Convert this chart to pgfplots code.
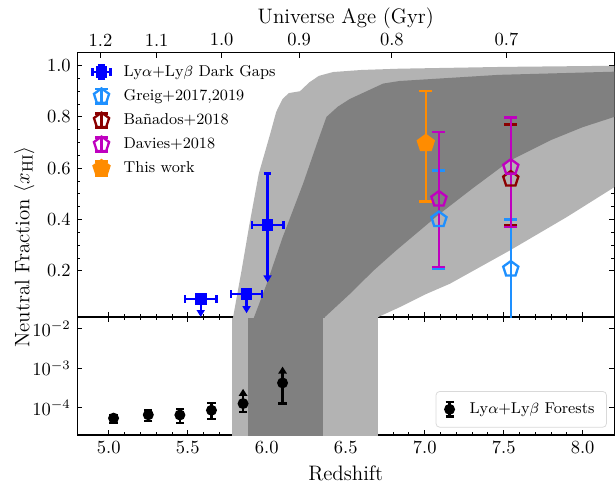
\documentclass[border=0pt]{standalone}
\usepackage{pgfplots}
\pgfplotsset{compat=1.18}
\usetikzlibrary{arrows.meta}

\definecolor{lgray}{RGB}{179,179,179}
\definecolor{dgray}{RGB}{128,128,128}
\definecolor{dodger}{RGB}{30,144,255}
\definecolor{dred}{RGB}{139,0,0}
\definecolor{mag}{RGB}{191,0,191}
\definecolor{dorange}{RGB}{255,140,0}

\pgfplotsset{
  base/.style={
    scale only axis, width=290pt, xmin=4.8, xmax=8.2,
    tick align=inside, major tick length=2.7pt, minor tick length=1.5pt,
    every tick/.append style={line width=0.5pt, black},
    axis line style={line width=0.7pt},
    tick label style={font=\fontsize{10}{12}\selectfont},
    label style={font=\fontsize{11.3}{13.5}\selectfont},
  },
  zticks/.style={
    xtick={5,5.5,6,6.5,7,7.5,8}, minor x tick num=4,
    xticklabel style={/pgf/number format/.cd, fixed, fixed zerofill, precision=1},
  },
  ebleg/.style={legend image code/.code={
    \draw[##1, mark=none] (0pt,-3.8pt) -- (0pt,3.8pt)
      (-3.5pt,-3.8pt) -- (3.5pt,-3.8pt) (-3.5pt,3.8pt) -- (3.5pt,3.8pt);
    \draw[##1] plot coordinates {(0pt,0pt)};}},
  ebblue/.style={legend image code/.code={
    \draw[##1, mark=none] (0pt,-3.8pt) -- (0pt,3.8pt) (-4.8pt,0pt) -- (4.8pt,0pt)
      (-2pt,-3.8pt) -- (2pt,-3.8pt) (-2pt,3.8pt) -- (2pt,3.8pt)
      (-4.8pt,-2pt) -- (-4.8pt,2pt) (4.8pt,-2pt) -- (4.8pt,2pt);
    \draw[##1] plot coordinates {(0pt,0pt)};}},
  ebblack/.style={legend image code/.code={
    \draw[##1, mark=none] (0pt,-3.8pt) -- (0pt,3.8pt)
      (-2.2pt,-3.8pt) -- (2.2pt,-3.8pt) (-2.2pt,3.8pt) -- (2.2pt,3.8pt);
    \draw[##1] plot coordinates {(0pt,0pt)};}},
  ebar/.style={error bars/.cd, y dir=both, y explicit,
    error bar style={line width=1.25pt},
    error mark options={rotate=90, line width=1.25pt, mark size=#1}},
}

\begin{document}
\begin{tikzpicture}
% ---------------- lower panel: forests ----------------
\begin{axis}[base, zticks, name=lower, at={(0pt,0pt)}, anchor=south west, height=63.7pt,
  ymode=log, ymin=2e-5, ymax=0.02, ytick={1e-4,1e-3,1e-2}, yminorticks=false,
  xtick pos=both, ytick pos=both,
  xlabel={Redshift},
  legend style={at={(1,0)}, anchor=south east, xshift=-4pt, yshift=4pt,
    draw=black!15, rounded corners=2pt, fill=white, column sep=6pt,
    font=\fontsize{8.5}{10}\selectfont, inner xsep=4.5pt, inner ysep=4pt},
]
\addplot[fill=lgray, draw=none, forget plot] coordinates {(5.78,1e-6) (6.705,1e-6) (6.705,1) (5.78,1)} -- cycle;
\addplot[fill=dgray, draw=none, forget plot] coordinates {(5.882,1e-6) (6.357,1e-6) (6.357,1) (5.882,1)} -- cycle;

\addplot[black, only marks, mark=*, mark size=2.3pt, line width=1.25pt, ebblack, ebar=2.2pt]
table[x=z, y=f, y error plus=ep, y error minus=em] {
z     f        ep       em
5.03  5.37e-5  1.09e-5  1.30e-5
5.25  6.53e-5  1.98e-5  2.06e-5
5.45  6.46e-5  2.77e-5  2.48e-5
5.65  8.51e-5  4.39e-5  3.38e-5
5.85  1.26e-4  0        4.84e-5
6.10  4.22e-4  0        2.96e-4
};
\addlegendentry{Ly$\alpha$+Ly$\beta$ Forests}
\addplot[black, line width=1.25pt, -{Triangle[width=4.5pt,length=3.8pt]}, forget plot]
  coordinates {(5.85,1.26e-4) (5.85,2.99e-4)};
\addplot[black, line width=1.25pt, -{Triangle[width=4.5pt,length=3.8pt]}, forget plot]
  coordinates {(6.10,4.22e-4) (6.10,1.10e-3)};
\end{axis}

% ---------------- upper panel: neutral fraction ----------------
\begin{axis}[base, zticks, name=upper, at={(0pt,63.7pt)}, anchor=south west, height=142.7pt,
  ymin=0.02, ymax=1.05, ytick={0.2,0.4,0.6,0.8,1.0}, minor y tick num=3,
  yticklabel style={/pgf/number format/.cd, fixed, fixed zerofill, precision=1},
  xticklabels={}, xtick pos=bottom, ytick pos=both,
  legend style={at={(0,1)}, anchor=north west, xshift=7.5pt, yshift=-4.5pt,
    draw=none, fill=none, font=\fontsize{8.5}{10}\selectfont,
    row sep=1.6pt, column sep=4.5pt, inner sep=0pt},
  legend cell align=left,
]
% outer band
\addplot[fill=lgray, draw=none, forget plot] coordinates {
 (5.780,0.0) (5.787,0.02) (5.84,0.2) (5.89,0.38) (5.95,0.58) (6.02,0.73) (6.06,0.82)
 (6.10,0.87) (6.14,0.893) (6.21,0.90) (6.27,0.935) (6.33,0.96) (6.42,0.975) (6.6,0.983)
 (6.84,0.988) (7.5,0.995) (8.3,1.0) (8.3,0.56) (8.2,0.526) (7.9,0.41) (7.54,0.28)
 (7.16,0.15) (7.01,0.11) (6.84,0.058) (6.705,0.02) (6.69,0.0)} -- cycle;
% inner band
\addplot[fill=dgray, draw=none, forget plot] coordinates {
 (5.91,0.0) (5.92,0.02) (6.0,0.15) (6.1,0.33) (6.23,0.54) (6.32,0.70) (6.378,0.80)
 (6.45,0.84) (6.526,0.87) (6.737,0.93) (6.84,0.94) (7.47,0.964) (8.3,0.978)
 (8.3,0.81) (8.2,0.80) (8.0,0.76) (7.8,0.71) (7.54,0.63) (7.3,0.52) (7.09,0.42)
 (6.82,0.28) (6.674,0.20) (6.526,0.11) (6.368,0.02) (6.36,0.0)} -- cycle;

\addplot[blue, only marks, mark=square*, mark size=2.5pt, line width=1.25pt, ebblue,
  error bars/.cd, x dir=both, x explicit, y dir=plus, y explicit,
  error bar style={line width=1.25pt},
  error mark options={rotate=90, line width=1.25pt, mark size=2pt}]
table[x=z, y=f, x error=ex, y error plus=ep] {
z      f      ex   ep
5.582  0.090  0.1  0
5.872  0.110  0.1  0
6.005  0.379  0.1  0.2
};
\addlegendentry{Ly$\alpha$+Ly$\beta$ Dark Gaps}

\addplot[dodger, only marks, mark=pentagon, mark size=4.3pt, line width=1.25pt, ebleg,
  mark options={line width=1.25pt}, ebar=3.5pt]
table[x=z, y=f, y error plus=ep, y error minus=em] {
z      f      ep     em
7.09   0.400  0.191  0.193
7.545  0.207  0.193  0.300
};
\addlegendentry{Greig+2017,2019}

\addplot[dred, only marks, mark=pentagon, mark size=4.3pt, line width=1.25pt, ebleg,
  mark options={line width=1.25pt}, ebar=3.5pt]
table[x=z, y=f, y error plus=ep, y error minus=em] {
z      f      ep     em
7.545  0.558  0.212  0.179
};
\addlegendentry{Ba\~{n}ados+2018}

\addplot[mag, only marks, mark=pentagon, mark size=4.3pt, line width=1.25pt, ebleg,
  mark options={line width=1.25pt}, ebar=3.5pt]
table[x=z, y=f, y error plus=ep, y error minus=em] {
z      f      ep     em
7.09   0.480  0.260  0.264
7.545  0.604  0.194  0.234
};
\addlegendentry{Davies+2018}

\addplot[dorange, only marks, mark=pentagon*, mark size=4.5pt, line width=1.25pt, ebleg,
  ebar=3.5pt]
table[x=z, y=f, y error plus=ep, y error minus=em] {
z      f      ep     em
7.007  0.697  0.203  0.227
};
\addlegendentry{This work}

% upper-limit arrows of the dark gaps
\addplot[blue, line width=1.25pt, -{Triangle[width=4.3pt,length=3.8pt]}, forget plot]
  coordinates {(5.582,0.090) (5.582,0.020)};
\addplot[blue, line width=1.25pt, -{Triangle[width=4.3pt,length=3.8pt]}, forget plot]
  coordinates {(5.872,0.110) (5.872,0.035)};
\addplot[blue, line width=1.25pt, -{Triangle[width=4.3pt,length=3.8pt]}, forget plot]
  coordinates {(6.005,0.379) (6.005,0.155)};
\end{axis}

% ---------------- top axis: age of the universe ----------------
\begin{axis}[base, at={(0pt,63.7pt)}, anchor=south west, height=142.7pt,
  ymin=0, ymax=1, axis x line*=top, axis y line=none,
  x axis line style={-},
  xtick={4.947,5.303,5.714,6.205,6.792,7.518},
  xticklabels={1.2,1.1,1.0,0.9,0.8,0.7},
  minor xtick={},
  xlabel={Universe Age (Gyr)}, xlabel style={yshift=-4.5pt},
]
\addplot[draw=none, forget plot] coordinates {(6,0.5)};
\end{axis}

\node[rotate=90, anchor=base, font=\fontsize{11.3}{13.5}\selectfont]
  at (-25.8pt,101.5pt) {Neutral Fraction $\langle x_{\rm HI}\rangle$};

\pgfresetboundingbox
\path[use as bounding box] (-41.7pt,-25.9pt) rectangle (290.4pt,234.9pt);
\end{tikzpicture}
\end{document}
